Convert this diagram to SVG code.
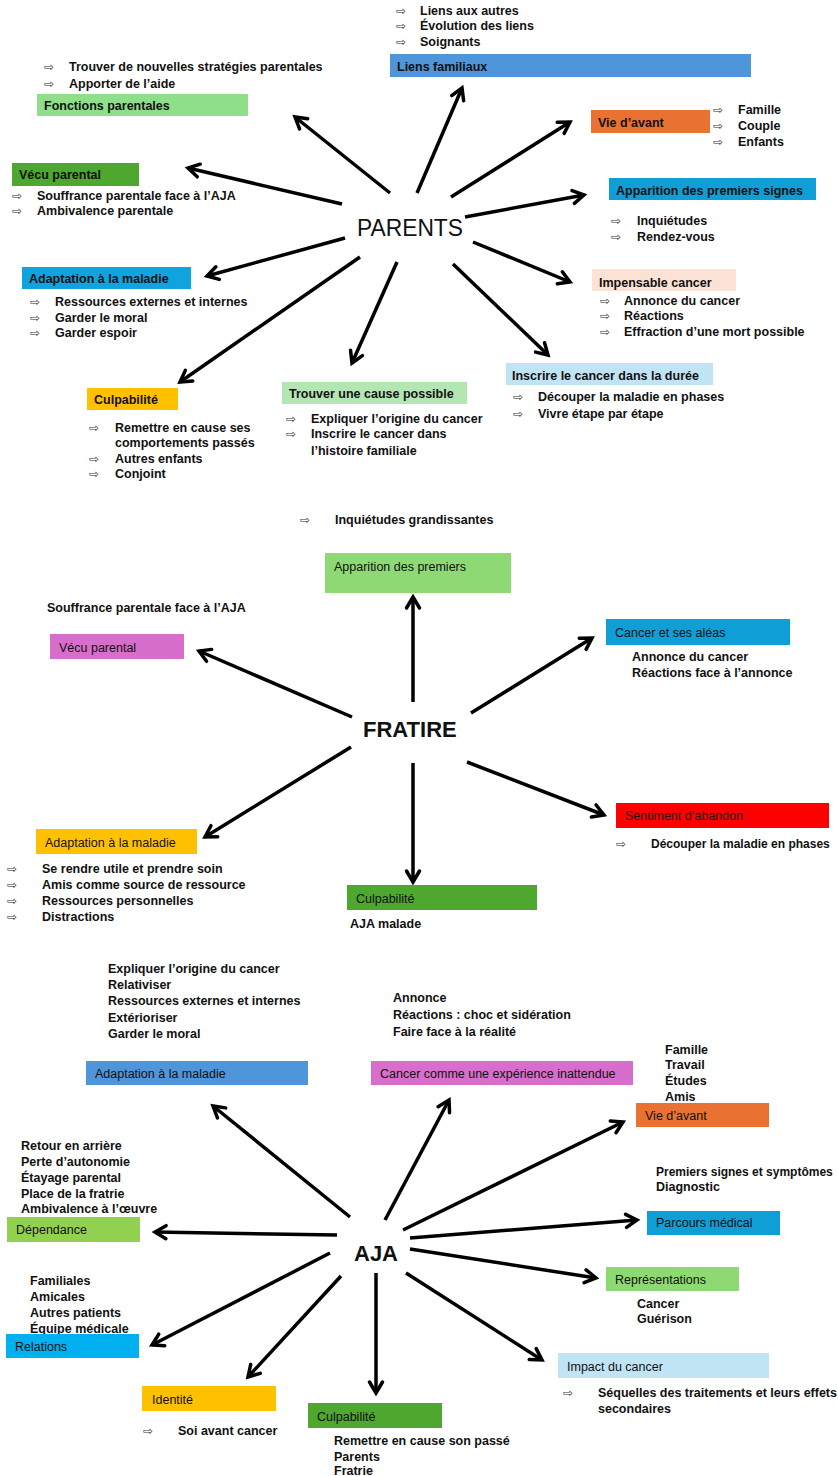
<svg xmlns="http://www.w3.org/2000/svg" width="838" height="1476" viewBox="0 0 838 1476">
<defs>
<style>
text{font-family:"Liberation Sans",Arial,sans-serif;fill:#111}
.b{font-size:12.5px;font-weight:bold}
.bs{font-size:12px;font-weight:bold}
.lb{font-size:12.5px;font-weight:bold}
.r{font-size:12.5px}
.ar{font-family:"DejaVu Sans",sans-serif;font-size:12px;fill:#333}
.hub{font-weight:bold;font-size:22px}
.c line{stroke:#000;stroke-width:3.5;marker-end:url(#ah)}
</style>
<marker id="ah" viewBox="0 0 16 16" refX="13" refY="8" markerWidth="16" markerHeight="16" markerUnits="userSpaceOnUse" orient="auto" overflow="visible">
<path d="M2,1.5 L13,8 L2,14.5" fill="none" stroke="#000" stroke-width="3.5" stroke-linecap="round" stroke-linejoin="miter"/>
</marker>
</defs>
<rect width="838" height="1476" fill="#fff"/>

<g class="c" id="connectors">
<line x1="390" y1="193" x2="295" y2="117"/>
<line x1="342" y1="204" x2="188" y2="168"/>
<line x1="417" y1="193" x2="462" y2="88"/>
<line x1="451" y1="197" x2="570" y2="122"/>
<line x1="465" y1="217" x2="584" y2="195"/>
<line x1="473" y1="242" x2="570" y2="282"/>
<line x1="453" y1="264" x2="548" y2="355"/>
<line x1="345" y1="238" x2="207" y2="276"/>
<line x1="360" y1="257" x2="180" y2="382"/>
<line x1="397" y1="262" x2="352" y2="363"/>

<line x1="413" y1="702" x2="413" y2="597"/>
<line x1="352" y1="717" x2="199" y2="651"/>
<line x1="471" y1="713" x2="592" y2="638"/>
<line x1="467" y1="762" x2="604" y2="815"/>
<line x1="351" y1="747" x2="205" y2="837"/>
<line x1="413" y1="763" x2="413" y2="882"/>

<line x1="350" y1="1217" x2="213" y2="1106"/>
<line x1="385" y1="1220" x2="449" y2="1100"/>
<line x1="403" y1="1230" x2="623" y2="1122"/>
<line x1="410" y1="1238" x2="637" y2="1220"/>
<line x1="337" y1="1235" x2="155" y2="1232"/>
<line x1="330" y1="1253" x2="152" y2="1345"/>
<line x1="341" y1="1276" x2="248" y2="1377"/>
<line x1="376" y1="1273" x2="376" y2="1393"/>
<line x1="410" y1="1249" x2="596" y2="1278"/>
<line x1="406" y1="1273" x2="542" y2="1360"/>
</g>

<!-- PARENTS -->
<g id="parents"><text x="357" y="236" font-size="23" textLength="106" lengthAdjust="spacingAndGlyphs">PARENTS</text></g>

<g id="p-liens">
<text class="ar" x="396" y="14.5">⇨</text><text class="b" x="420" y="14.5">Liens aux autres</text>
<text class="ar" x="396" y="29.5">⇨</text><text class="b" x="420" y="29.5">Évolution des liens</text>
<text class="ar" x="396" y="45.5">⇨</text><text class="b" x="420" y="45.5">Soignants</text>
<rect x="390" y="54" width="361" height="23" fill="#4e95d9"/>
<text class="lb" x="397" y="70.5">Liens familiaux</text>
</g>

<g id="p-fonctions">
<text class="ar" x="44" y="70.5">⇨</text><text class="b" x="69" y="70.5">Trouver de nouvelles stratégies parentales</text>
<text class="ar" x="44" y="87.5">⇨</text><text class="b" x="69" y="87.5">Apporter de l’aide</text>
<rect x="37" y="94" width="211" height="22" fill="#8ede8a"/>
<text class="lb" x="44" y="109.5">Fonctions parentales</text>
</g>

<g id="p-vecu">
<rect x="12" y="163" width="127" height="23" fill="#4ea72e"/>
<text class="lb" x="19" y="178.5">Vécu parental</text>
<text class="ar" x="12" y="199.5">⇨</text><text class="b" x="37" y="199.5">Souffrance parentale face à l’AJA</text>
<text class="ar" x="12" y="214.5">⇨</text><text class="b" x="37" y="214.5">Ambivalence parentale</text>
</g>

<g id="p-vie">
<rect x="591" y="110" width="119" height="23" fill="#e97132"/>
<text class="lb" x="598" y="126.5">Vie d’avant</text>
<text class="ar" x="713" y="113.5">⇨</text><text class="b" x="738" y="113.5">Famille</text>
<text class="ar" x="713" y="129.5">⇨</text><text class="b" x="738" y="129.5">Couple</text>
<text class="ar" x="713" y="145.5">⇨</text><text class="b" x="738" y="145.5">Enfants</text>
</g>

<g id="p-apparition">
<rect x="609" y="178" width="207" height="22" fill="#0f9ed5"/>
<text class="lb" x="616" y="194.5">Apparition des premiers signes</text>
<text class="ar" x="611" y="224.5">⇨</text><text class="b" x="637" y="224.5">Inquiétudes</text>
<text class="ar" x="611" y="240.5">⇨</text><text class="b" x="637" y="240.5">Rendez-vous</text>
</g>

<g id="p-impensable">
<rect x="592" y="269" width="144" height="22" fill="#fbe2d5"/>
<text class="lb" x="599" y="286.5">Impensable cancer</text>
<text class="ar" x="600" y="304.5">⇨</text><text class="b" x="624" y="304.5">Annonce du cancer</text>
<text class="ar" x="600" y="319.5">⇨</text><text class="b" x="624" y="319.5">Réactions</text>
<text class="ar" x="600" y="335.5">⇨</text><text class="b" x="624" y="335.5">Effraction d’une mort possible</text>
</g>

<g id="p-inscrire">
<rect x="506" y="363" width="207" height="22" fill="#c1e4f5"/>
<text class="lb" x="512" y="379.5">Inscrire le cancer dans la durée</text>
<text class="ar" x="513" y="400.5">⇨</text><text class="b" x="538" y="400.5">Découper la maladie en phases</text>
<text class="ar" x="513" y="417.5">⇨</text><text class="b" x="538" y="417.5">Vivre étape par étape</text>
</g>

<g id="p-adaptation">
<rect x="22" y="267" width="169" height="22" fill="#0fa3df"/>
<text class="lb" x="29" y="282.5">Adaptation à la maladie</text>
<text class="ar" x="30" y="305.5">⇨</text><text class="b" x="55" y="305.5">Ressources externes et internes</text>
<text class="ar" x="30" y="321.5">⇨</text><text class="b" x="55" y="321.5">Garder le moral</text>
<text class="ar" x="30" y="336.5">⇨</text><text class="b" x="55" y="336.5">Garder espoir</text>
</g>

<g id="p-culpabilite">
<rect x="87" y="388" width="91" height="22" fill="#ffc000"/>
<text class="lb" x="94" y="403.5">Culpabilité</text>
<text class="ar" x="89" y="431.5">⇨</text><text class="b" x="115" y="431.5">Remettre en cause ses</text>
<text class="b" x="115" y="446.5">comportements passés</text>
<text class="ar" x="89" y="462.5">⇨</text><text class="b" x="115" y="462.5">Autres enfants</text>
<text class="ar" x="89" y="477.5">⇨</text><text class="b" x="115" y="477.5">Conjoint</text>
</g>

<g id="p-trouver">
<rect x="282" y="382" width="185" height="22" fill="#b3e6b3"/>
<text class="lb" x="289" y="397.5">Trouver une cause possible</text>
<text class="ar" x="286" y="422.5">⇨</text><text class="b" x="311" y="422.5">Expliquer l’origine du cancer</text>
<text class="ar" x="286" y="437.5">⇨</text><text class="b" x="311" y="437.5">Inscrire le cancer dans</text>
<text class="b" x="311" y="454.5">l’histoire familiale</text>
</g>

<!-- FRATIRE -->
<g id="fratire"><text class="hub" x="363" y="737">FRATIRE</text></g>

<g id="f-apparition">
<text class="ar" x="300" y="523.5">⇨</text><text class="b" x="335" y="523.5">Inquiétudes grandissantes</text>
<rect x="325" y="553" width="186" height="40" fill="#8ed973"/>
<text class="r" x="334" y="570.5">Apparition des premiers</text>
</g>

<g id="f-vecu">
<text class="b" x="47" y="611.5">Souffrance parentale face à l’AJA</text>
<rect x="50" y="634" width="134" height="25" fill="#d86ecc"/>
<text class="r" x="59" y="651.5">Vécu parental</text>
</g>

<g id="f-cancer">
<rect x="606" y="619" width="184" height="26" fill="#0f9ed5"/>
<text class="r" x="615" y="636.5">Cancer et ses aléas</text>
<text class="b" x="632" y="660.5">Annonce du cancer</text>
<text class="b" x="632" y="676.5">Réactions face à l’annonce</text>
</g>

<g id="f-sentiment">
<rect x="616" y="803" width="213" height="25" fill="#ff0000"/>
<text class="r" x="625" y="819.5">Sentiment d’abandon</text>
<text class="ar" x="616" y="847.5">⇨</text><text class="bs" x="651" y="847.5">Découper la maladie en phases</text>
</g>

<g id="f-adaptation">
<rect x="36" y="829" width="161" height="25" fill="#ffc000"/>
<text class="r" x="45" y="846.5">Adaptation à la maladie</text>
<text class="ar" x="7" y="872.5">⇨</text><text class="b" x="42" y="872.5">Se rendre utile et prendre soin</text>
<text class="ar" x="7" y="888.5">⇨</text><text class="b" x="42" y="888.5">Amis comme source de ressource</text>
<text class="ar" x="7" y="904.5">⇨</text><text class="b" x="42" y="904.5">Ressources personnelles</text>
<text class="ar" x="7" y="920.5">⇨</text><text class="b" x="42" y="920.5">Distractions</text>
</g>

<g id="f-culpabilite">
<rect x="347" y="885" width="190" height="25" fill="#4ea72e"/>
<text class="r" x="356" y="902.5">Culpabilité</text>
<text class="b" x="350" y="927.5">AJA malade</text>
</g>

<!-- AJA -->
<g id="aja"><text class="hub" x="354" y="1261">AJA</text></g>

<g id="a-adaptation">
<text class="b" x="108" y="972.5">Expliquer l’origine du cancer</text>
<text class="b" x="108" y="989">Relativiser</text>
<text class="b" x="108" y="1005">Ressources externes et internes</text>
<text class="b" x="108" y="1021.5">Extérioriser</text>
<text class="b" x="108" y="1038">Garder le moral</text>
<rect x="86" y="1061" width="222" height="24" fill="#4e95d9"/>
<text class="r" x="95" y="1077.5">Adaptation à la maladie</text>
</g>

<g id="a-cancer">
<text class="b" x="393" y="1001.5">Annonce</text>
<text class="b" x="393" y="1018.5">Réactions : choc et sidération</text>
<text class="b" x="393" y="1035.5">Faire face à la réalité</text>
<rect x="371" y="1061" width="262" height="24" fill="#d86ecc"/>
<text class="r" x="380" y="1077.5">Cancer comme une expérience inattendue</text>
</g>

<g id="a-vie">
<text class="b" x="665" y="1053.5">Famille</text>
<text class="b" x="665" y="1068.5">Travail</text>
<text class="b" x="665" y="1084.5">Études</text>
<text class="b" x="665" y="1100.5">Amis</text>
<rect x="636" y="1103" width="133" height="24" fill="#e97132"/>
<text class="r" x="645" y="1119.5">Vie d’avant</text>
</g>

<g id="a-parcours">
<text class="bs" x="656" y="1175.5">Premiers signes et symptômes</text>
<text class="b" x="656" y="1190.5">Diagnostic</text>
<rect x="647" y="1211" width="133" height="24" fill="#0f9ed5"/>
<text class="r" x="656" y="1226.5">Parcours médical</text>
</g>

<g id="a-representations">
<rect x="606" y="1267" width="133" height="24" fill="#8ed973"/>
<text class="r" x="615" y="1283.5">Représentations</text>
<text class="b" x="637" y="1307.5">Cancer</text>
<text class="b" x="637" y="1322.5">Guérison</text>
</g>

<g id="a-impact">
<rect x="558" y="1353" width="211" height="25" fill="#c1e4f5"/>
<text class="r" x="567" y="1370.5">Impact du cancer</text>
<text class="ar" x="563" y="1396.5">⇨</text><text class="b" x="598" y="1396.5">Séquelles des traitements et leurs effets</text>
<text class="b" x="598" y="1412.5">secondaires</text>
</g>

<g id="a-culpabilite">
<rect x="308" y="1403" width="134" height="25" fill="#4ea72e"/>
<text class="r" x="317" y="1420.5">Culpabilité</text>
<text class="b" x="334" y="1444.5">Remettre en cause son passé</text>
<text class="b" x="334" y="1460.5">Parents</text>
<text class="b" x="334" y="1474.5">Fratrie</text>
</g>

<g id="a-identite">
<rect x="142" y="1386" width="134" height="25" fill="#ffc000"/>
<text class="r" x="152" y="1403.5">Identité</text>
<text class="ar" x="143" y="1434.5">⇨</text><text class="b" x="178" y="1434.5">Soi avant cancer</text>
</g>

<g id="a-relations">
<text class="b" x="30" y="1284.5">Familiales</text>
<text class="b" x="30" y="1300.5">Amicales</text>
<text class="b" x="30" y="1316.5">Autres patients</text>
<text class="b" x="30" y="1332.5">Équipe médicale</text>
<rect x="6" y="1334" width="133" height="24" fill="#00b0f0"/>
<text class="r" x="15" y="1350.5">Relations</text>
</g>

<g id="a-dependance">
<text class="b" x="21" y="1149.5">Retour en arrière</text>
<text class="b" x="21" y="1165.5">Perte d’autonomie</text>
<text class="b" x="21" y="1181.5">Étayage parental</text>
<text class="b" x="21" y="1197.5">Place de la fratrie</text>
<text class="b" x="21" y="1212.5">Ambivalence à l’œuvre</text>
<rect x="7" y="1217" width="133" height="25" fill="#92d050"/>
<text class="r" x="16" y="1233.5">Dépendance</text>
</g>
</svg>
